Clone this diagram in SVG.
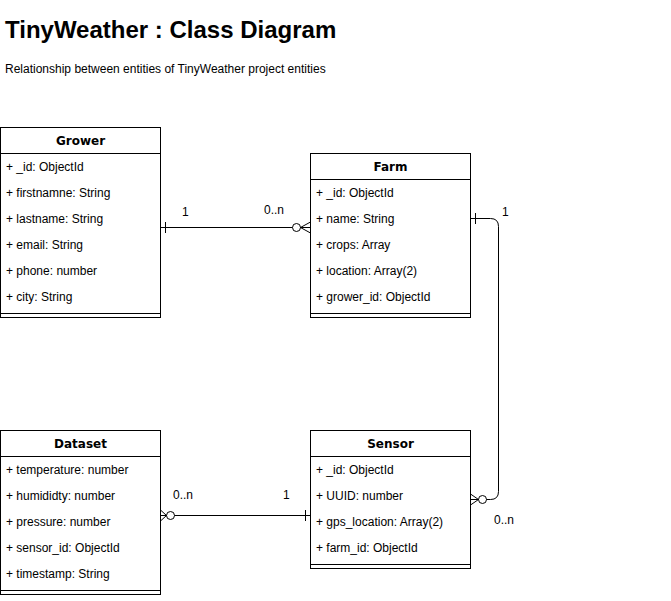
<svg xmlns="http://www.w3.org/2000/svg" width="671" height="601" viewBox="0 0 671 601">
<style>
text{font-family:"Liberation Sans",Arial,Helvetica,sans-serif;fill:#000}
.t{font-size:24px;font-weight:bold}
.s{font-size:12px}
.h{font-family:"DejaVu Sans",Verdana,sans-serif;font-size:12px;font-weight:bold;text-anchor:middle}
.r{font-size:12px}
.l{font-size:12px}
.box{fill:#fff;stroke:#000;stroke-width:1}
.ln{fill:none;stroke:#000;stroke-width:1}
</style>
<rect width="671" height="601" fill="#fff"/>
<text class="t" x="5" y="38">TinyWeather : Class Diagram</text>
<text class="s" x="5" y="73">Relationship between entities of TinyWeather project entities</text>

<g id="grower">
<rect class="box" x="0.5" y="127.5" width="160" height="190"/>
<line class="ln" x1="0.5" y1="153.5" x2="160.5" y2="153.5"/>
<line class="ln" x1="0.5" y1="313.5" x2="160.5" y2="313.5"/>
<text class="h" x="80.5" y="145">Grower</text>
<text class="r" x="6" y="171">+ _id: ObjectId</text>
<text class="r" x="6" y="197">+ firstnamne: String</text>
<text class="r" x="6" y="223">+ lastname: String</text>
<text class="r" x="6" y="249">+ email: String</text>
<text class="r" x="6" y="275">+ phone: number</text>
<text class="r" x="6" y="301">+ city: String</text>
</g>

<g id="farm">
<rect class="box" x="310.5" y="153.5" width="160" height="164"/>
<line class="ln" x1="310.5" y1="179.5" x2="470.5" y2="179.5"/>
<line class="ln" x1="310.5" y1="313.5" x2="470.5" y2="313.5"/>
<text class="h" x="390.5" y="171">Farm</text>
<text class="r" x="316" y="197">+ _id: ObjectId</text>
<text class="r" x="316" y="223">+ name: String</text>
<text class="r" x="316" y="249">+ crops: Array</text>
<text class="r" x="316" y="275">+ location: Array(2)</text>
<text class="r" x="316" y="301">+ grower_id: ObjectId</text>
</g>

<g id="dataset">
<rect class="box" x="0.5" y="430.5" width="160" height="164"/>
<line class="ln" x1="0.5" y1="456.5" x2="160.5" y2="456.5"/>
<line class="ln" x1="0.5" y1="590.5" x2="160.5" y2="590.5"/>
<text class="h" x="80.5" y="448">Dataset</text>
<text class="r" x="6" y="474">+ temperature: number</text>
<text class="r" x="6" y="500">+ humididty: number</text>
<text class="r" x="6" y="526">+ pressure: number</text>
<text class="r" x="6" y="552">+ sensor_id: ObjectId</text>
<text class="r" x="6" y="578">+ timestamp: String</text>
</g>

<g id="sensor">
<rect class="box" x="310.5" y="430.5" width="160" height="138"/>
<line class="ln" x1="310.5" y1="456.5" x2="470.5" y2="456.5"/>
<line class="ln" x1="310.5" y1="564.5" x2="470.5" y2="564.5"/>
<text class="h" x="390.5" y="448">Sensor</text>
<text class="r" x="316" y="474">+ _id: ObjectId</text>
<text class="r" x="316" y="500">+ UUID: number</text>
<text class="r" x="316" y="526">+ gps_location: Array(2)</text>
<text class="r" x="316" y="552">+ farm_id: ObjectId</text>
</g>

<g id="connectors">
<path class="ln" d="M160.5,227.5 H292.5"/>
<line class="ln" x1="165.5" y1="222" x2="165.5" y2="233"/>
<circle class="ln" cx="296.5" cy="227.5" r="4"/>
<path class="ln" d="M310.5,222 L300.5,227.5 L310.5,233 M300.5,227.5 H310.5"/>
<text class="l" x="182" y="216">1</text>
<text class="l" x="264" y="214">0..n</text>

<path class="ln" d="M470.5,218.5 H490.5 Q498.5,218.5 498.5,226.5 V491.5 Q498.5,499.5 490.5,499.5 H486.5"/>
<line class="ln" x1="475.5" y1="213" x2="475.5" y2="224"/>
<circle class="ln" cx="482.5" cy="499.5" r="4"/>
<path class="ln" d="M470.5,494 L478.5,499.5 L470.5,505 M478.5,499.5 H470.5"/>
<text class="l" x="502" y="216">1</text>
<text class="l" x="494" y="524">0..n</text>

<path class="ln" d="M174.5,515.5 H310.5"/>
<line class="ln" x1="305.5" y1="510" x2="305.5" y2="521"/>
<circle class="ln" cx="170.5" cy="515.5" r="4"/>
<path class="ln" d="M160.5,510 L166.5,515.5 L160.5,521 M166.5,515.5 H160.5"/>
<text class="l" x="173" y="499">0..n</text>
<text class="l" x="283" y="499">1</text>
</g>
</svg>
